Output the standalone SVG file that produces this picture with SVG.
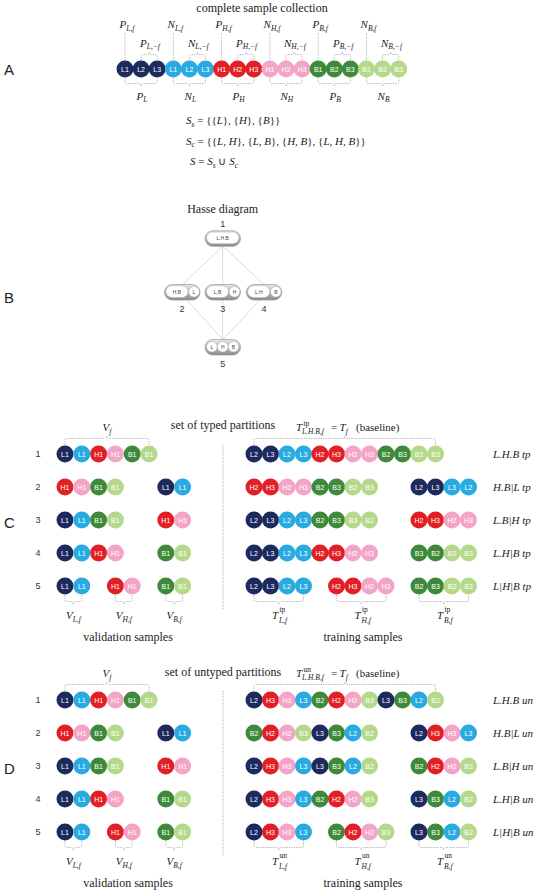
<svg xmlns="http://www.w3.org/2000/svg" width="536" height="893" viewBox="0 0 536 893">
<style>
.t{font-family:"Liberation Serif",serif;font-size:12px;fill:#222;text-anchor:middle}
.e{font-family:"Liberation Serif",serif;font-size:11px;fill:#222}
.m{font-family:"Liberation Serif",serif;font-style:italic;font-size:11px;fill:#222}
.i{font-style:italic}
.s{font-size:7.5px}
.up{font-style:normal}
.cl{font-family:"Liberation Sans",sans-serif;font-size:7px;fill:#fff;text-anchor:middle}
.num{font-family:"Liberation Sans",sans-serif;font-size:9px;fill:#333;text-anchor:middle}
.hn{font-family:"Liberation Sans",sans-serif;font-size:5px;fill:#444;text-anchor:middle}
.sec{font-family:"Liberation Sans",sans-serif;font-size:15px;fill:#222}
.dot{fill:none;stroke:#9a9a9a;stroke-width:0.8;stroke-dasharray:1.2 1.2}
.nv{fill:#1c2a5e}.cy{fill:#29abe2}.rd{fill:#e31f26}.pk{fill:#f4a5c7}.dg{fill:#3e8a3a}.lg{fill:#b5d98b}
.outer{fill:url(#gg);stroke:#8a8a8a;stroke-width:0.6}
.inner{fill:#fff;stroke:#999;stroke-width:0.4}
</style>
<defs>
<linearGradient id="gg" x1="0" y1="0" x2="0" y2="1"><stop offset="0" stop-color="#e8e8e8"/><stop offset="1" stop-color="#8c8c8c"/></linearGradient>
<g id="nL1"><circle r="8.5" class="nv"/><text class="cl" y="2.5">L1</text></g>
<g id="nL2"><circle r="8.5" class="nv"/><text class="cl" y="2.5">L2</text></g>
<g id="nL3"><circle r="8.5" class="nv"/><text class="cl" y="2.5">L3</text></g>
<g id="cL1"><circle r="8.5" class="cy"/><text class="cl" y="2.5">L1</text></g>
<g id="cL2"><circle r="8.5" class="cy"/><text class="cl" y="2.5">L2</text></g>
<g id="cL3"><circle r="8.5" class="cy"/><text class="cl" y="2.5">L3</text></g>
<g id="rH1"><circle r="8.5" class="rd"/><text class="cl" y="2.5">H1</text></g>
<g id="rH2"><circle r="8.5" class="rd"/><text class="cl" y="2.5">H2</text></g>
<g id="rH3"><circle r="8.5" class="rd"/><text class="cl" y="2.5">H3</text></g>
<g id="pH1"><circle r="8.5" class="pk"/><text class="cl" y="2.5">H1</text></g>
<g id="pH2"><circle r="8.5" class="pk"/><text class="cl" y="2.5">H2</text></g>
<g id="pH3"><circle r="8.5" class="pk"/><text class="cl" y="2.5">H3</text></g>
<g id="gB1"><circle r="8.5" class="dg"/><text class="cl" y="2.5">B1</text></g>
<g id="gB2"><circle r="8.5" class="dg"/><text class="cl" y="2.5">B2</text></g>
<g id="gB3"><circle r="8.5" class="dg"/><text class="cl" y="2.5">B3</text></g>
<g id="lB1"><circle r="8.5" class="lg"/><text class="cl" y="2.5">B1</text></g>
<g id="lB2"><circle r="8.5" class="lg"/><text class="cl" y="2.5">B2</text></g>
<g id="lB3"><circle r="8.5" class="lg"/><text class="cl" y="2.5">B3</text></g>
<path id="abr" class="dot" d="M125 33V60.5M141.1 60.5V56.5Q141.1 54.5 143.1 54.5H146.65Q149.15 54.5 149.15 52Q149.15 54.5 151.65 54.5H155.2Q157.2 54.5 157.2 56.5V60.5M125 78V81.5Q125 83.5 127 83.5H138.6Q141.1 83.5 141.1 86Q141.1 83.5 143.6 83.5H155.2Q157.2 83.5 157.2 81.5V78"/>
<g id="vrows">
<use href="#nL1" x="65" y="454"/><use href="#cL1" x="81.8" y="454"/><use href="#rH1" x="98.6" y="454"/><use href="#pH1" x="115.4" y="454"/><use href="#gB1" x="132.2" y="454"/><use href="#lB1" x="149" y="454"/>
<use href="#rH1" x="65" y="487"/><use href="#pH1" x="81.8" y="487"/><use href="#gB1" x="98.6" y="487"/><use href="#lB1" x="115.4" y="487"/><use href="#nL1" x="165.8" y="487"/><use href="#cL1" x="182.6" y="487"/>
<use href="#nL1" x="65" y="520"/><use href="#cL1" x="81.8" y="520"/><use href="#gB1" x="98.6" y="520"/><use href="#lB1" x="115.4" y="520"/><use href="#rH1" x="165.8" y="520"/><use href="#pH1" x="182.6" y="520"/>
<use href="#nL1" x="65" y="553"/><use href="#cL1" x="81.8" y="553"/><use href="#rH1" x="98.6" y="553"/><use href="#pH1" x="115.4" y="553"/><use href="#gB1" x="165.8" y="553"/><use href="#lB1" x="182.6" y="553"/>
<use href="#nL1" x="65" y="586"/><use href="#cL1" x="81.8" y="586"/><use href="#rH1" x="115.4" y="586"/><use href="#pH1" x="132.2" y="586"/><use href="#gB1" x="165.8" y="586"/><use href="#lB1" x="182.6" y="586"/>
</g>
<g id="frame">
<text class="num" x="38" y="457">1</text><text class="num" x="38" y="490">2</text><text class="num" x="38" y="523">3</text><text class="num" x="38" y="556">4</text><text class="num" x="38" y="589">5</text>
<path class="dot" d="M65 445V440.5Q65 438.5 67 438.5H104.5Q107 438.5 107 436Q107 438.5 109.5 438.5H147Q149 438.5 149 440.5V445"/>
<path class="dot" d="M254 445V440.5Q254 438.5 256 438.5H342.25Q344.75 438.5 344.75 436Q344.75 438.5 347.25 438.5H433.5Q435.5 438.5 435.5 440.5V445"/>
<path class="dot" d="M223 445V610"/>
<path class="dot" d="M65 595V599.5Q65 601.5 67 601.5H70.9Q73.4 601.5 73.4 604Q73.4 601.5 75.9 601.5H79.8Q81.8 601.5 81.8 599.5V595M115.4 595V599.5Q115.4 601.5 117.4 601.5H121.3Q123.8 601.5 123.8 604Q123.8 601.5 126.3 601.5H130.2Q132.2 601.5 132.2 599.5V595M165.8 595V599.5Q165.8 601.5 167.8 601.5H171.7Q174.2 601.5 174.2 604Q174.2 601.5 176.7 601.5H180.6Q182.6 601.5 182.6 599.5V595"/>
<path class="dot" d="M254 595V599.5Q254 601.5 256 601.5H276.25Q278.75 601.5 278.75 604Q278.75 601.5 281.25 601.5H301.5Q303.5 601.5 303.5 599.5V595M336.5 595V599.5Q336.5 601.5 338.5 601.5H358.75Q361.25 601.5 361.25 604Q361.25 601.5 363.75 601.5H384Q386 601.5 386 599.5V595M419 595V599.5Q419 601.5 421 601.5H441.25Q443.75 601.5 443.75 604Q443.75 601.5 446.25 601.5H466.5Q468.5 601.5 468.5 599.5V595"/>
<text class="m" x="107" y="431" text-anchor="middle">V<tspan class="s" dy="2.5">f</tspan></text>
<text class="m" x="73.4" y="619" text-anchor="middle">V<tspan class="s" dy="2.5">L,f</tspan></text>
<text class="m" x="123.8" y="619" text-anchor="middle">V<tspan class="s" dy="2.5">H,f</tspan></text>
<text class="m" x="174.2" y="619" text-anchor="middle">V<tspan class="s" dy="2.5">B,f</tspan></text>
<text class="m" x="296" y="431">T</text>
<text class="m s" x="302" y="434">L.H.B,f</text>
<text class="e" x="331" y="431">=</text>
<text class="m" x="339.5" y="431">T<tspan class="s" dy="2.5">f</tspan></text>
<text class="e" x="356" y="431" font-size="10">(baseline)</text>
<text class="m" x="272" y="619">T</text><text class="m s" x="279" y="622.5">L,f</text>
<text class="m" x="354.5" y="619">T</text><text class="m s" x="361.5" y="622.5">H,f</text>
<text class="m" x="437" y="619">T</text><text class="m s" x="444" y="622.5">B,f</text>
<text class="t" x="128" y="641">validation samples</text>
<text class="t" x="363" y="641">training samples</text>
</g>
</defs>

<rect width="536" height="893" fill="#fff"/>

<g id="partA">
<text class="t" x="262" y="12">complete sample collection</text>
<text class="sec" x="4" y="74.5">A</text>
<g id="A-braces">
<use href="#abr"/><use href="#abr" x="48.3"/><use href="#abr" x="96.6"/><use href="#abr" x="144.9"/><use href="#abr" x="193.2"/><use href="#abr" x="241.5"/>
</g>
<g id="A-labels">
<text class="m" x="127" y="28" text-anchor="middle">P<tspan class="s" dy="2.5">L,f</tspan></text>
<text class="m" x="175.3" y="28" text-anchor="middle">N<tspan class="s" dy="2.5">L,f</tspan></text>
<text class="m" x="223.6" y="28" text-anchor="middle">P<tspan class="s" dy="2.5">H,f</tspan></text>
<text class="m" x="271.9" y="28" text-anchor="middle">N<tspan class="s" dy="2.5">H,f</tspan></text>
<text class="m" x="320.2" y="28" text-anchor="middle">P<tspan class="s" dy="2.5">B,f</tspan></text>
<text class="m" x="368.5" y="28" text-anchor="middle">N<tspan class="s" dy="2.5">B,f</tspan></text>
<text class="m" x="150" y="46.5" text-anchor="middle">P<tspan class="s" dy="2.5">L,−f</tspan></text>
<text class="m" x="198.3" y="46.5" text-anchor="middle">N<tspan class="s" dy="2.5">L,−f</tspan></text>
<text class="m" x="246.6" y="46.5" text-anchor="middle">P<tspan class="s" dy="2.5">H,−f</tspan></text>
<text class="m" x="294.9" y="46.5" text-anchor="middle">N<tspan class="s" dy="2.5">H,−f</tspan></text>
<text class="m" x="343.2" y="46.5" text-anchor="middle">P<tspan class="s" dy="2.5">B,−f</tspan></text>
<text class="m" x="391.5" y="46.5" text-anchor="middle">N<tspan class="s" dy="2.5">B,−f</tspan></text>
<text class="m" x="142" y="99.5" text-anchor="middle">P<tspan class="s" dy="2.5">L</tspan></text>
<text class="m" x="190.3" y="99.5" text-anchor="middle">N<tspan class="s" dy="2.5">L</tspan></text>
<text class="m" x="238.6" y="99.5" text-anchor="middle">P<tspan class="s" dy="2.5">H</tspan></text>
<text class="m" x="286.9" y="99.5" text-anchor="middle">N<tspan class="s" dy="2.5">H</tspan></text>
<text class="m" x="335.2" y="99.5" text-anchor="middle">P<tspan class="s" dy="2.5">B</tspan></text>
<text class="m" x="383.5" y="99.5" text-anchor="middle">N<tspan class="s" dy="2.5">B</tspan></text>
</g>
<g id="A-samples">
<use href="#nL1" x="125" y="69"/><use href="#nL2" x="141.1" y="69"/><use href="#nL3" x="157.2" y="69"/>
<use href="#cL1" x="173.3" y="69"/><use href="#cL2" x="189.4" y="69"/><use href="#cL3" x="205.5" y="69"/>
<use href="#rH1" x="221.6" y="69"/><use href="#rH2" x="237.7" y="69"/><use href="#rH3" x="253.8" y="69"/>
<use href="#pH1" x="269.9" y="69"/><use href="#pH2" x="286" y="69"/><use href="#pH3" x="302.1" y="69"/>
<use href="#gB1" x="318.2" y="69"/><use href="#gB2" x="334.3" y="69"/><use href="#gB3" x="350.4" y="69"/>
<use href="#lB1" x="366.5" y="69"/><use href="#lB2" x="382.6" y="69"/><use href="#lB3" x="398.7" y="69"/>
</g>
<g id="A-sets">
<text class="e" x="186" y="124"><tspan class="i">S</tspan><tspan class="s i" dy="2.5">s</tspan><tspan dy="-2.5"> = {{</tspan><tspan class="i">L</tspan>}, {<tspan class="i">H</tspan>}, {<tspan class="i">B</tspan>}}</text>
<text class="e" x="186" y="144.5"><tspan class="i">S</tspan><tspan class="s i" dy="2.5">c</tspan><tspan dy="-2.5"> = {{</tspan><tspan class="i">L, H</tspan>}, {<tspan class="i">L, B</tspan>}, {<tspan class="i">H, B</tspan>}, {<tspan class="i">L, H, B</tspan>}}</text>
<text class="e" x="190" y="165"><tspan class="i">S</tspan> = <tspan class="i">S</tspan><tspan class="s i" dy="2.5">s</tspan><tspan dy="-2.5"> ∪ </tspan><tspan class="i">S</tspan><tspan class="s i" dy="2.5">c</tspan></text>
</g>
</g>

<g id="partB">
<text class="t" x="222.7" y="213">Hasse diagram</text>
<text class="sec" x="4" y="303">B</text>
<g id="hasse-edges" stroke="#d0d0d0" stroke-width="0.8" fill="none">
<line x1="222.7" y1="246" x2="182.7" y2="284.5"/>
<line x1="222.7" y1="246" x2="222.7" y2="284.5"/>
<line x1="222.7" y1="246" x2="264" y2="284.5"/>
<line x1="186.7" y1="300" x2="222.7" y2="339.5"/>
<line x1="222.7" y1="300" x2="222.7" y2="339.5"/>
<line x1="260" y1="300" x2="222.7" y2="339.5"/>
</g>
<g id="h1">
<rect class="outer" x="205" y="230.8" width="35.5" height="15.5" rx="7.75"/>
<rect class="inner" x="206.6" y="232" width="32.3" height="11.8" rx="5.9"/>
<text class="hn" x="222.7" y="239.7">L.H.B</text>
<text class="num" x="222.7" y="226.5" font-size="8.5">1</text>
</g>
<g id="h2">
<rect class="outer" x="164.5" y="284.5" width="35.5" height="15.5" rx="7.75"/>
<rect class="inner" x="166" y="285.8" width="22" height="11.8" rx="5.9"/>
<circle class="inner" cx="194" cy="291.7" r="5.3"/>
<text class="hn" x="177" y="293.5">H.B</text>
<text class="hn" x="194" y="293.5">L</text>
<text class="num" x="182" y="311.5" font-size="8.5">2</text>
</g>
<g id="h3">
<rect class="outer" x="205" y="284.5" width="35.5" height="15.5" rx="7.75"/>
<rect class="inner" x="206.5" y="285.8" width="22" height="11.8" rx="5.9"/>
<circle class="inner" cx="234.5" cy="291.7" r="5.3"/>
<text class="hn" x="217.5" y="293.5">L.B</text>
<text class="hn" x="234.5" y="293.5">H</text>
<text class="num" x="222.7" y="311.5" font-size="8.5">3</text>
</g>
<g id="h4">
<rect class="outer" x="246.3" y="284.5" width="35.5" height="15.5" rx="7.75"/>
<rect class="inner" x="247.8" y="285.8" width="22" height="11.8" rx="5.9"/>
<circle class="inner" cx="275.8" cy="291.7" r="5.3"/>
<text class="hn" x="258.8" y="293.5">L.H</text>
<text class="hn" x="275.8" y="293.5">B</text>
<text class="num" x="264" y="311.5" font-size="8.5">4</text>
</g>
<g id="h5">
<rect class="outer" x="205" y="339.5" width="35.5" height="15.5" rx="7.75"/>
<circle class="inner" cx="211.9" cy="346.7" r="5.3"/>
<circle class="inner" cx="222.7" cy="346.7" r="5.3"/>
<circle class="inner" cx="233.5" cy="346.7" r="5.3"/>
<text class="hn" x="211.9" y="348.5">L</text>
<text class="hn" x="222.7" y="348.5">H</text>
<text class="hn" x="233.5" y="348.5">B</text>
<text class="num" x="222.7" y="367" font-size="8.5">5</text>
</g>
</g>

<g id="partC">
<text class="t" x="223" y="429">set of typed partitions</text>
<text class="sec" x="4" y="528">C</text>
<use href="#frame"/>
<use href="#vrows"/>
<text class="m s up" x="303.5" y="425.5">tp</text>
<text class="m s up" x="279.5" y="612">tp</text><text class="m s up" x="362" y="612">tp</text><text class="m s up" x="444.5" y="612">tp</text>
<g id="C-rowlabels" font-size="11.5">
<text class="m" x="493" y="458" font-size="11.5">L.H.B tp</text>
<text class="m" x="493" y="491" font-size="11.5">H.B|L tp</text>
<text class="m" x="493" y="524" font-size="11.5">L.B|H tp</text>
<text class="m" x="493" y="557" font-size="11.5">L.H|B tp</text>
<text class="m" x="493" y="590" font-size="11.5">L|H|B tp</text>
</g>
<g id="C-training">
<use href="#nL2" x="254" y="454"/><use href="#nL3" x="270.5" y="454"/><use href="#cL2" x="287" y="454"/><use href="#cL3" x="303.5" y="454"/><use href="#rH2" x="320" y="454"/><use href="#rH3" x="336.5" y="454"/><use href="#pH2" x="353" y="454"/><use href="#pH3" x="369.5" y="454"/><use href="#gB2" x="386" y="454"/><use href="#gB3" x="402.5" y="454"/><use href="#lB2" x="419" y="454"/><use href="#lB3" x="435.5" y="454"/>
<use href="#rH2" x="254" y="487"/><use href="#rH3" x="270.5" y="487"/><use href="#pH2" x="287" y="487"/><use href="#pH3" x="303.5" y="487"/><use href="#gB2" x="320" y="487"/><use href="#gB3" x="336.5" y="487"/><use href="#lB2" x="353" y="487"/><use href="#lB3" x="369.5" y="487"/><use href="#nL2" x="419" y="487"/><use href="#nL3" x="435.5" y="487"/><use href="#cL3" x="452" y="487"/><use href="#cL2" x="468.5" y="487"/>
<use href="#nL2" x="254" y="520"/><use href="#nL3" x="270.5" y="520"/><use href="#cL2" x="287" y="520"/><use href="#cL3" x="303.5" y="520"/><use href="#gB2" x="320" y="520"/><use href="#gB3" x="336.5" y="520"/><use href="#lB3" x="353" y="520"/><use href="#lB2" x="369.5" y="520"/><use href="#rH2" x="419" y="520"/><use href="#rH3" x="435.5" y="520"/><use href="#pH2" x="452" y="520"/><use href="#pH3" x="468.5" y="520"/>
<use href="#nL2" x="254" y="553"/><use href="#nL3" x="270.5" y="553"/><use href="#cL2" x="287" y="553"/><use href="#cL3" x="303.5" y="553"/><use href="#rH2" x="320" y="553"/><use href="#rH3" x="336.5" y="553"/><use href="#pH2" x="353" y="553"/><use href="#pH3" x="369.5" y="553"/><use href="#gB3" x="419" y="553"/><use href="#gB2" x="435.5" y="553"/><use href="#lB2" x="452" y="553"/><use href="#lB3" x="468.5" y="553"/>
<use href="#nL2" x="254" y="586"/><use href="#nL3" x="270.5" y="586"/><use href="#cL2" x="287" y="586"/><use href="#cL3" x="303.5" y="586"/><use href="#rH2" x="336.5" y="586"/><use href="#rH3" x="353" y="586"/><use href="#pH2" x="369.5" y="586"/><use href="#pH3" x="386" y="586"/><use href="#gB2" x="419" y="586"/><use href="#gB3" x="435.5" y="586"/><use href="#lB2" x="452" y="586"/><use href="#lB3" x="468.5" y="586"/>
</g>
</g>

<g id="partD" transform="translate(0,246)">
<text class="t" x="223" y="430">set of untyped partitions</text>
<text class="sec" x="4" y="527.5">D</text>
<use href="#frame"/>
<use href="#vrows"/>
<text class="m s up" x="303.5" y="425.5">un</text>
<text class="m s up" x="279.5" y="612">un</text><text class="m s up" x="362" y="612">un</text><text class="m s up" x="444.5" y="612">un</text>
<g id="D-rowlabels">
<text class="m" x="493" y="458" font-size="11.5">L.H.B un</text>
<text class="m" x="493" y="491" font-size="11.5">H.B|L un</text>
<text class="m" x="493" y="524" font-size="11.5">L.B|H un</text>
<text class="m" x="493" y="557" font-size="11.5">L.H|B un</text>
<text class="m" x="493" y="590" font-size="11.5">L|H|B un</text>
</g>
<g id="D-training">
<use href="#nL2" x="254" y="454"/><use href="#rH3" x="270.5" y="454"/><use href="#pH3" x="287" y="454"/><use href="#cL3" x="303.5" y="454"/><use href="#gB2" x="320" y="454"/><use href="#rH2" x="336.5" y="454"/><use href="#pH2" x="353" y="454"/><use href="#lB3" x="369.5" y="454"/><use href="#nL3" x="386" y="454"/><use href="#gB3" x="402.5" y="454"/><use href="#cL2" x="419" y="454"/><use href="#lB2" x="435.5" y="454"/>
<use href="#gB2" x="254" y="487"/><use href="#rH2" x="270.5" y="487"/><use href="#pH2" x="287" y="487"/><use href="#lB3" x="303.5" y="487"/><use href="#nL3" x="320" y="487"/><use href="#gB3" x="336.5" y="487"/><use href="#cL2" x="353" y="487"/><use href="#lB2" x="369.5" y="487"/><use href="#nL2" x="419" y="487"/><use href="#rH3" x="435.5" y="487"/><use href="#pH3" x="452" y="487"/><use href="#cL3" x="468.5" y="487"/>
<use href="#nL2" x="254" y="520"/><use href="#rH3" x="270.5" y="520"/><use href="#pH3" x="287" y="520"/><use href="#cL3" x="303.5" y="520"/><use href="#nL3" x="320" y="520"/><use href="#gB3" x="336.5" y="520"/><use href="#cL2" x="353" y="520"/><use href="#lB2" x="369.5" y="520"/><use href="#gB2" x="419" y="520"/><use href="#rH2" x="435.5" y="520"/><use href="#pH2" x="452" y="520"/><use href="#lB3" x="468.5" y="520"/>
<use href="#nL2" x="254" y="553"/><use href="#rH3" x="270.5" y="553"/><use href="#pH3" x="287" y="553"/><use href="#cL3" x="303.5" y="553"/><use href="#gB2" x="320" y="553"/><use href="#rH2" x="336.5" y="553"/><use href="#pH2" x="353" y="553"/><use href="#lB3" x="369.5" y="553"/><use href="#nL3" x="419" y="553"/><use href="#gB3" x="435.5" y="553"/><use href="#cL2" x="452" y="553"/><use href="#lB2" x="468.5" y="553"/>
<use href="#nL2" x="254" y="586"/><use href="#rH3" x="270.5" y="586"/><use href="#pH3" x="287" y="586"/><use href="#cL3" x="303.5" y="586"/><use href="#gB2" x="336.5" y="586"/><use href="#rH2" x="353" y="586"/><use href="#pH2" x="369.5" y="586"/><use href="#lB3" x="386" y="586"/><use href="#nL3" x="419" y="586"/><use href="#gB3" x="435.5" y="586"/><use href="#cL2" x="452" y="586"/><use href="#lB2" x="468.5" y="586"/>
</g>
</g>
</svg>
